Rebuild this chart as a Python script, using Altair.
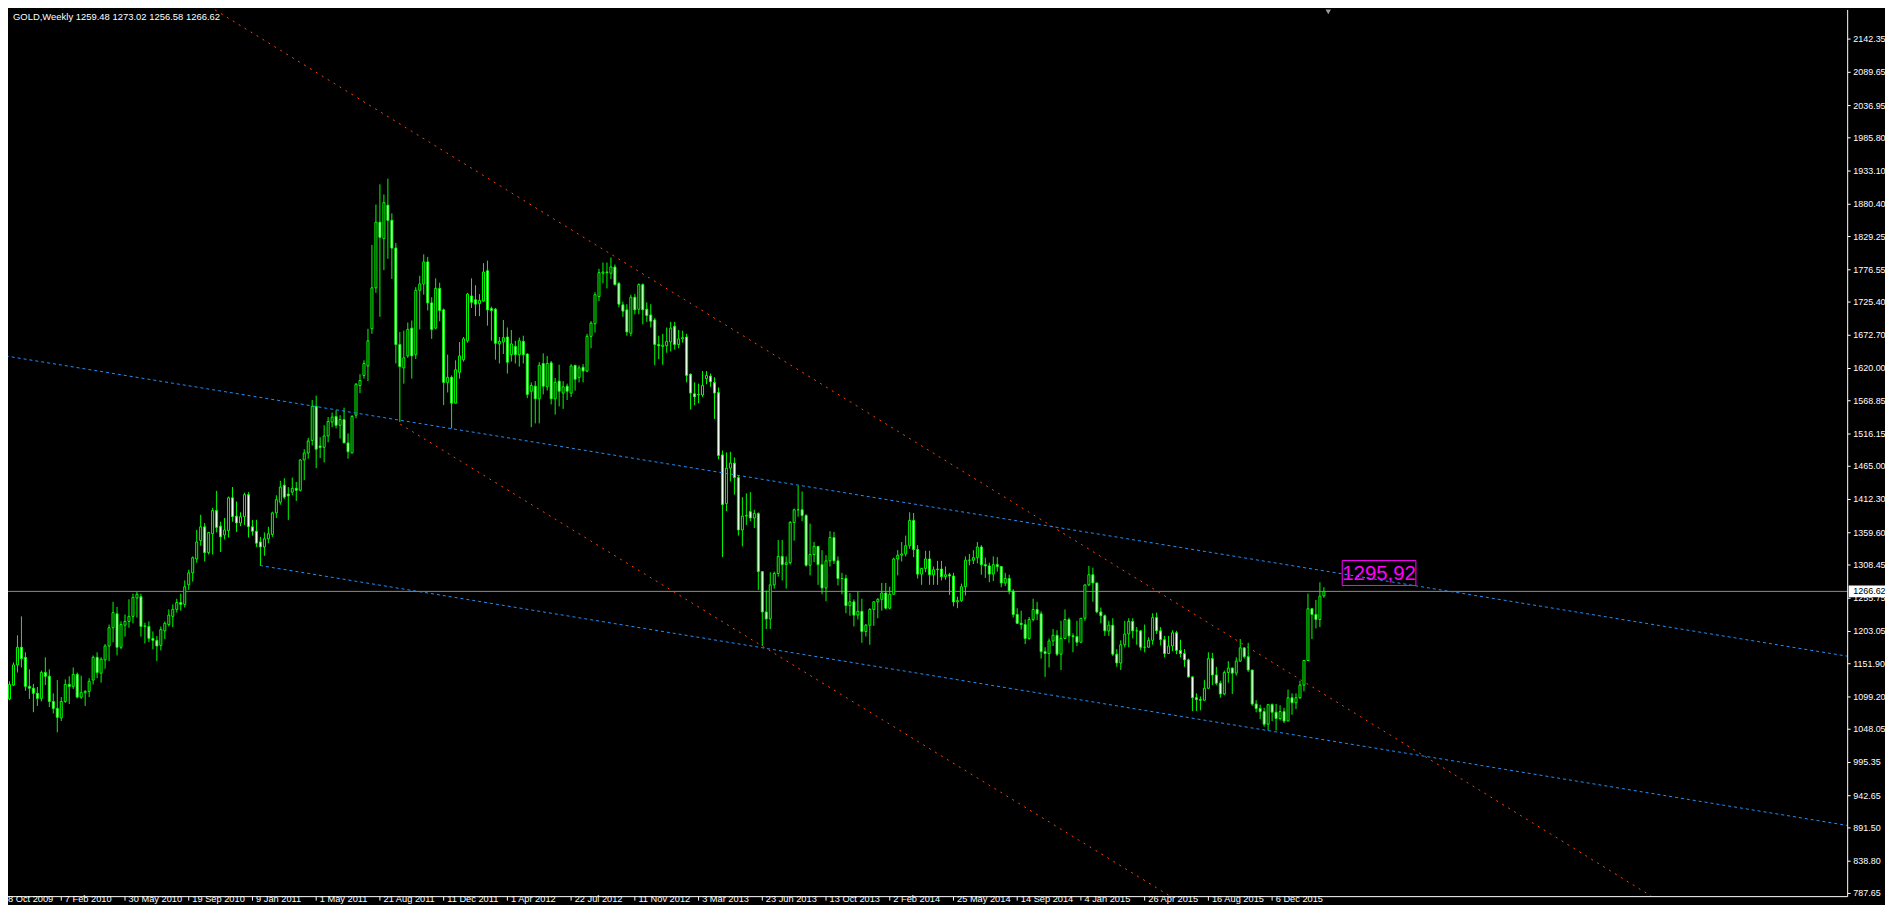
import altair as alt
import pandas as pd

# ---------------- weekly GOLD bars (one per week, first = week of 25 Oct 2009) -------------
bar_open = [
    1056, 1043, 1096, 1118, 1150, 1178, 1162, 1116, 1113, 1105,
    1097, 1138, 1132, 1092, 1081, 1066, 1092, 1119, 1116, 1135,
    1099, 1106, 1108, 1126, 1162, 1137, 1158, 1180, 1209, 1231,
    1178, 1213, 1219, 1227, 1256, 1258, 1211, 1211, 1192, 1189,
    1181, 1204, 1214, 1227, 1238, 1249, 1246, 1277, 1296, 1318,
    1347, 1369, 1328, 1358, 1395, 1370, 1356, 1363, 1415, 1386,
    1375, 1385, 1420, 1369, 1362, 1345, 1337, 1350, 1357, 1391,
    1408, 1435, 1421, 1424, 1430, 1427, 1475, 1486, 1506, 1560,
    1497, 1495, 1513, 1535, 1544, 1530, 1539, 1502, 1486, 1546,
    1593, 1609, 1624, 1683, 1748, 1852, 1826, 1879, 1855, 1811,
    1658, 1621, 1640, 1684, 1642, 1744, 1754, 1789, 1724, 1684,
    1747, 1713, 1598, 1606, 1565, 1614, 1634, 1664, 1735, 1729,
    1723, 1727, 1775, 1715, 1714, 1659, 1662, 1670, 1642, 1655,
    1642, 1663, 1643, 1584, 1592, 1572, 1628, 1591, 1629, 1572,
    1600, 1581, 1592, 1581, 1625, 1606, 1622, 1616, 1671, 1691,
    1734, 1771, 1773, 1771, 1781, 1755, 1721, 1713, 1676, 1733,
    1714, 1753, 1714, 1705, 1697, 1658, 1655, 1656, 1662, 1687,
    1658, 1667, 1670, 1611, 1580, 1578, 1578, 1604, 1608, 1598,
    1582, 1483, 1406, 1462, 1470, 1447, 1364, 1386, 1393, 1383,
    1390, 1298, 1234, 1223, 1277, 1295, 1322, 1309, 1312, 1376,
    1396, 1396, 1387, 1308, 1325, 1338, 1309, 1272, 1315, 1352,
    1315, 1287, 1287, 1244, 1250, 1229, 1235, 1203, 1213, 1238,
    1250, 1254, 1264, 1240, 1262, 1318, 1324, 1326, 1339, 1379,
    1333, 1294, 1303, 1318, 1293, 1301, 1302, 1290, 1293, 1291,
    1250, 1252, 1274, 1316, 1316, 1320, 1337, 1309, 1307, 1294,
    1309, 1306, 1280, 1287, 1267, 1230, 1216, 1214, 1192, 1222,
    1238, 1231, 1171, 1168, 1188, 1197, 1167, 1192, 1222, 1196,
    1195, 1186, 1224, 1277, 1293, 1280, 1234, 1228, 1204, 1213,
    1167, 1153, 1182, 1199, 1219, 1204, 1204, 1178, 1178, 1189,
    1225, 1204, 1190, 1168, 1180, 1201, 1173, 1168, 1158, 1131,
    1098, 1095, 1094, 1113, 1160, 1134, 1121, 1104, 1138, 1145,
    1137, 1156, 1177, 1163, 1142, 1088, 1081, 1076, 1056, 1087,
    1075, 1065, 1076, 1061, 1098, 1090, 1098, 1118, 1157, 1239,
    1230, 1222, 1259.48,
]
bar_high = [
    1061, 1102, 1124, 1154, 1197, 1227, 1170, 1143, 1120, 1115,
    1141, 1162, 1143, 1105, 1126, 1099, 1127, 1132, 1146, 1138,
    1133, 1110, 1129, 1165, 1170, 1162, 1183, 1214, 1250, 1242,
    1219, 1230, 1254, 1263, 1266, 1263, 1217, 1219, 1203, 1196,
    1211, 1219, 1238, 1246, 1255, 1263, 1284, 1301, 1322, 1364,
    1388, 1375, 1361, 1399, 1426, 1377, 1383, 1417, 1432, 1409,
    1392, 1423, 1424, 1380, 1380, 1353, 1360, 1369, 1393, 1419,
    1442, 1446, 1432, 1447, 1440, 1476, 1492, 1510, 1570, 1577,
    1511, 1530, 1543, 1550, 1554, 1546, 1558, 1517, 1546, 1597,
    1611, 1633, 1683, 1816, 1880, 1912, 1896, 1921, 1866, 1819,
    1678, 1680, 1693, 1696, 1749, 1767, 1801, 1797, 1733, 1763,
    1756, 1715, 1642, 1609, 1633, 1662, 1670, 1740, 1763, 1752,
    1738, 1787, 1791, 1718, 1716, 1670, 1697, 1685, 1681, 1664,
    1669, 1672, 1644, 1598, 1600, 1630, 1644, 1640, 1632, 1605,
    1626, 1600, 1596, 1627, 1626, 1625, 1627, 1675, 1695, 1741,
    1778, 1788, 1788, 1796, 1785, 1757, 1726, 1722, 1737, 1738,
    1755, 1755, 1725, 1722, 1700, 1672, 1675, 1685, 1694, 1694,
    1681, 1680, 1675, 1612, 1598, 1596, 1616, 1616, 1612, 1606,
    1590, 1490, 1487, 1488, 1479, 1451, 1416, 1422, 1424, 1396,
    1392, 1298, 1268, 1297, 1298, 1348, 1348, 1322, 1378, 1398,
    1434, 1425, 1389, 1374, 1345, 1338, 1332, 1324, 1362, 1361,
    1322, 1296, 1293, 1264, 1254, 1267, 1255, 1215, 1240, 1251,
    1256, 1280, 1280, 1274, 1320, 1332, 1345, 1355, 1392, 1391,
    1340, 1304, 1331, 1331, 1306, 1315, 1315, 1306, 1296, 1296,
    1258, 1279, 1322, 1326, 1332, 1345, 1340, 1320, 1312, 1322,
    1321, 1306, 1296, 1293, 1270, 1240, 1236, 1222, 1226, 1255,
    1250, 1235, 1178, 1192, 1207, 1205, 1220, 1238, 1225, 1200,
    1220, 1224, 1266, 1307, 1304, 1280, 1241, 1230, 1220, 1224,
    1175, 1189, 1220, 1224, 1224, 1210, 1205, 1214, 1194, 1232,
    1233, 1210, 1196, 1196, 1205, 1204, 1190, 1175, 1160, 1132,
    1105, 1100, 1126, 1170, 1169, 1147, 1125, 1141, 1156, 1146,
    1162, 1191, 1178, 1185, 1142, 1094, 1087, 1082, 1088, 1089,
    1088, 1086, 1082, 1111, 1105, 1105, 1125, 1157, 1263, 1240,
    1253, 1281, 1273.02,
]
bar_low = [
    1028, 1040, 1094, 1117, 1138, 1146, 1109, 1096, 1075, 1085,
    1092, 1118, 1083, 1073, 1043, 1061, 1090, 1088, 1112, 1097,
    1096, 1085, 1099, 1119, 1129, 1122, 1144, 1156, 1186, 1165,
    1175, 1195, 1209, 1216, 1225, 1195, 1184, 1186, 1175, 1156,
    1173, 1191, 1211, 1210, 1233, 1236, 1241, 1269, 1282, 1312,
    1339, 1314, 1325, 1325, 1360, 1329, 1349, 1352, 1377, 1361,
    1370, 1372, 1352, 1355, 1337, 1307, 1323, 1343, 1353, 1383,
    1404, 1413, 1380, 1419, 1410, 1425, 1443, 1477, 1498, 1462,
    1478, 1471, 1503, 1527, 1525, 1509, 1502, 1477, 1486, 1541,
    1581, 1604, 1600, 1675, 1740, 1702, 1776, 1794, 1762, 1628,
    1535, 1596, 1637, 1604, 1635, 1682, 1737, 1712, 1667, 1682,
    1695, 1562, 1582, 1525, 1565, 1604, 1631, 1661, 1716, 1703,
    1703, 1726, 1688, 1664, 1634, 1628, 1643, 1612, 1631, 1628,
    1623, 1628, 1573, 1527, 1533, 1533, 1579, 1585, 1563, 1547,
    1560, 1556, 1570, 1575, 1585, 1598, 1598, 1614, 1652, 1677,
    1727, 1755, 1747, 1762, 1752, 1717, 1702, 1672, 1671, 1706,
    1706, 1690, 1694, 1685, 1625, 1635, 1626, 1645, 1647, 1650,
    1652, 1661, 1598, 1555, 1562, 1565, 1575, 1595, 1591, 1540,
    1476, 1321, 1394, 1441, 1420, 1355, 1338, 1372, 1378, 1367,
    1269, 1180, 1207, 1207, 1271, 1290, 1284, 1271, 1309, 1347,
    1385, 1378, 1306, 1292, 1313, 1277, 1262, 1251, 1306, 1310,
    1276, 1262, 1232, 1228, 1211, 1222, 1185, 1195, 1182, 1212,
    1224, 1236, 1238, 1238, 1262, 1292, 1314, 1322, 1334, 1321,
    1287, 1277, 1297, 1277, 1277, 1277, 1284, 1285, 1261, 1243,
    1240, 1250, 1260, 1308, 1310, 1311, 1293, 1288, 1281, 1283,
    1298, 1273, 1275, 1262, 1225, 1215, 1206, 1183, 1190, 1219,
    1221, 1160, 1131, 1146, 1180, 1164, 1142, 1191, 1185, 1170,
    1180, 1185, 1220, 1275, 1250, 1232, 1216, 1196, 1196, 1164,
    1147, 1142, 1178, 1178, 1192, 1182, 1173, 1170, 1178, 1182,
    1199, 1181, 1162, 1169, 1172, 1167, 1162, 1147, 1130, 1077,
    1077, 1078, 1093, 1112, 1118, 1118, 1098, 1102, 1122, 1104,
    1133, 1155, 1160, 1139, 1085, 1075, 1064, 1052, 1046, 1061,
    1046, 1062, 1058, 1061, 1071, 1080, 1096, 1108, 1156, 1191,
    1208, 1210, 1256.58,
]
bar_close = [
    1043, 1096, 1119, 1150, 1178, 1160, 1116, 1113, 1105, 1097,
    1138, 1132, 1092, 1081, 1067, 1092, 1119, 1116, 1135, 1099,
    1106, 1108, 1124, 1162, 1138, 1159, 1180, 1209, 1233, 1178,
    1214, 1219, 1227, 1257, 1262, 1211, 1212, 1192, 1189, 1180,
    1206, 1216, 1229, 1238, 1249, 1246, 1274, 1296, 1320, 1345,
    1369, 1328, 1360, 1395, 1368, 1353, 1364, 1415, 1385, 1375,
    1385, 1420, 1369, 1362, 1343, 1337, 1350, 1358, 1391, 1412,
    1432, 1416, 1418, 1430, 1427, 1475, 1486, 1505, 1560, 1492,
    1495, 1513, 1536, 1543, 1530, 1539, 1502, 1488, 1544, 1595,
    1601, 1628, 1664, 1748, 1852, 1828, 1883, 1855, 1811, 1658,
    1623, 1637, 1682, 1640, 1744, 1754, 1789, 1724, 1682, 1747,
    1712, 1598, 1606, 1565, 1618, 1640, 1667, 1738, 1725, 1722,
    1728, 1773, 1713, 1712, 1660, 1663, 1669, 1630, 1659, 1642,
    1664, 1642, 1579, 1593, 1572, 1625, 1592, 1628, 1572, 1598,
    1584, 1591, 1584, 1624, 1603, 1621, 1616, 1671, 1692, 1737,
    1772, 1773, 1772, 1781, 1753, 1722, 1711, 1678, 1733, 1713,
    1753, 1713, 1704, 1695, 1658, 1656, 1657, 1663, 1684, 1658,
    1667, 1669, 1609, 1581, 1575, 1579, 1593, 1609, 1599, 1581,
    1482, 1404, 1462, 1470, 1447, 1364, 1386, 1387, 1383, 1390,
    1298, 1234, 1223, 1277, 1295, 1322, 1309, 1312, 1376, 1396,
    1396, 1387, 1308, 1325, 1338, 1309, 1272, 1315, 1352, 1315,
    1287, 1287, 1244, 1250, 1229, 1235, 1203, 1213, 1238, 1250,
    1254, 1264, 1240, 1262, 1318, 1324, 1326, 1339, 1379, 1333,
    1294, 1303, 1318, 1293, 1301, 1302, 1290, 1293, 1291, 1250,
    1252, 1274, 1316, 1316, 1320, 1337, 1309, 1307, 1294, 1309,
    1306, 1280, 1287, 1267, 1230, 1216, 1214, 1192, 1222, 1238,
    1231, 1171, 1168, 1188, 1197, 1167, 1192, 1222, 1196, 1195,
    1186, 1224, 1277, 1293, 1280, 1234, 1228, 1204, 1213, 1167,
    1153, 1182, 1199, 1219, 1204, 1204, 1178, 1178, 1189, 1225,
    1204, 1190, 1168, 1180, 1201, 1173, 1168, 1158, 1131, 1098,
    1095, 1094, 1113, 1160, 1134, 1121, 1104, 1138, 1145, 1137,
    1156, 1177, 1163, 1142, 1088, 1081, 1076, 1056, 1087, 1075,
    1065, 1076, 1061, 1098, 1090, 1098, 1118, 1157, 1239, 1230,
    1222, 1259, 1266.62,
]

# ---------------- axis labels ----------------
price_labels = ["2142.35", "2089.65", "2036.95", "1985.80", "1933.10", "1880.40",
                "1829.25", "1776.55", "1725.40", "1672.70", "1620.00", "1568.85",
                "1516.15", "1465.00", "1412.30", "1359.60", "1308.45", "1255.75",
                "1203.05", "1151.90", "1099.20", "1048.05", "995.35", "942.65",
                "891.50", "838.80", "787.65"]
first_date_label = "8 Oct 2009"
date_labels = ["7 Feb 2010", "30 May 2010", "19 Sep 2010", "9 Jan 2011", "1 May 2011",
               "21 Aug 2011", "11 Dec 2011", "1 Apr 2012", "22 Jul 2012", "11 Nov 2012",
               "3 Mar 2013", "23 Jun 2013", "13 Oct 2013", "2 Feb 2014", "25 May 2014",
               "14 Sep 2014", "4 Jan 2015", "26 Apr 2015", "16 Aug 2015", "6 Dec 2015"]
date_bars = [15, 31, 47, 63, 79, 95, 111, 127, 143, 159, 175, 191, 207, 223, 239,
             255, 271, 287, 303, 319]

# ---------------- drawn objects (bar index, price) ----------------
red_upper_bar = [53.6, 414.2]
red_upper_price = [2188.6, 783.4]
red_lower_bar = [100.1, 293.4]
red_lower_price = [1531.8, 783.4]
blue_upper_bar = [-0.4, 463.4]
blue_upper_price = [1641.4, 1163.9]
blue_lower_bar = [64.9, 463.4]
blue_lower_price = [1307.6, 895.5]
text_label = "1295,92"
text_box_bar = [336.6, 355.1]
text_box_price = [1276.0, 1315.5]
shift_marker_bar = 333.1

symbol = "GOLD,Weekly"

# ---------------- scales ----------------
X_DOM = [1.625, 472.875]      # bar index shown across the whole picture
Y_DOM = [772.35, 2188.61]     # price shown top to bottom
AXIS_BAR = 463.5              # bar position of the price scale line
BOTTOM_PRICE = 782.6          # price level of the time scale line
xs = alt.Scale(domain=X_DOM, nice=False, zero=False)
ys = alt.Scale(domain=Y_DOM, nice=False, zero=False)

LIME = "#00FF00"
FONT = "Liberation Sans"

n = len(bar_close)
bars = pd.DataFrame({
    "i": list(range(n)),
    "o": bar_open, "h": bar_high, "l": bar_low, "c": bar_close,
})
bars["top"] = bars[["o", "c"]].max(axis=1)
bars["bot"] = bars[["o", "c"]].min(axis=1)
bars["hi"] = bars[["h", "top"]].max(axis=1)
bars["lo"] = bars[["l", "bot"]].min(axis=1)
bars["x0"] = bars["i"] - 0.25
bars["x1"] = bars["i"] + 0.25
bars["kind"] = ["bull" if c >= o else "bear" for o, c in zip(bar_open, bar_close)]

wicks = alt.Chart(bars).mark_rule(color=LIME, strokeWidth=1).encode(
    x=alt.X("i:Q", scale=xs, axis=None),
    y=alt.Y("lo:Q", scale=ys, axis=None),
    y2="hi:Q",
)
bodies = alt.Chart(bars).mark_rect(stroke=LIME, strokeWidth=1).encode(
    x=alt.X("x0:Q", scale=xs, axis=None),
    x2="x1:Q",
    y=alt.Y("bot:Q", scale=ys, axis=None),
    y2="top:Q",
    fill=alt.Fill("kind:N", scale=alt.Scale(domain=["bull", "bear"],
                                            range=["#000000", "#FFFFFF"]), legend=None),
)

def trend(bx, py, color, dash):
    df = pd.DataFrame({"bar": bx, "price": py})
    return alt.Chart(df).mark_line(color=color, strokeWidth=1, strokeDash=dash).encode(
        x=alt.X("bar:Q", scale=xs, axis=None),
        y=alt.Y("price:Q", scale=ys, axis=None),
    )

red1 = trend(red_upper_bar, red_upper_price, "#FF4500", [2, 5])
red2 = trend(red_lower_bar, red_lower_price, "#FF4500", [2, 5])
blue1 = trend(blue_upper_bar, blue_upper_price, "#1E90FF", [3, 3])
blue2 = trend(blue_lower_bar, blue_lower_price, "#1E90FF", [3, 3])

last_close = bar_close[-1]
bid = alt.Chart(pd.DataFrame({"p": [last_close], "a": [X_DOM[0]], "b": [AXIS_BAR]})).mark_rule(
    color="#8C8C8C", strokeWidth=1).encode(
    x=alt.X("a:Q", scale=xs, axis=None), x2="b:Q",
    y=alt.Y("p:Q", scale=ys, axis=None))

# axes frame
frame_df = pd.DataFrame({"x": [AXIS_BAR], "xa": [X_DOM[0]], "y1": [Y_DOM[1]], "y0": [BOTTOM_PRICE]})
right_line = alt.Chart(frame_df).mark_rule(color="#FFFFFF", strokeWidth=1).encode(
    x=alt.X("x:Q", scale=xs, axis=None),
    y=alt.Y("y0:Q", scale=ys, axis=None), y2="y1:Q")
bottom_line = alt.Chart(frame_df).mark_rule(color="#FFFFFF", strokeWidth=1).encode(
    x=alt.X("xa:Q", scale=xs, axis=None), x2="x:Q",
    y=alt.Y("y0:Q", scale=ys, axis=None))

pl = pd.DataFrame({"label": price_labels, "p": [float(v) for v in price_labels]})
pl["x0"] = AXIS_BAR
pl["x1"] = AXIS_BAR + 0.75
pl["xt"] = AXIS_BAR + 1.4
price_ticks = alt.Chart(pl).mark_rule(color="#FFFFFF", strokeWidth=1).encode(
    x=alt.X("x0:Q", scale=xs, axis=None), x2="x1:Q",
    y=alt.Y("p:Q", scale=ys, axis=None))
price_text = alt.Chart(pl).mark_text(align="left", baseline="middle", color="#FFFFFF",
                                     font=FONT, fontSize=9).encode(
    x=alt.X("xt:Q", scale=xs, axis=None),
    y=alt.Y("p:Q", scale=ys, axis=None),
    text="label:N")

dl = pd.DataFrame({"label": date_labels, "bar": date_bars})
dl["y0"] = BOTTOM_PRICE
dl["y1"] = BOTTOM_PRICE - 6.3
dl["xt"] = dl["bar"] + 0.9
dl["yt"] = 774.0
date_ticks = alt.Chart(dl).mark_rule(color="#FFFFFF", strokeWidth=1).encode(
    x=alt.X("bar:Q", scale=xs, axis=None),
    y=alt.Y("y0:Q", scale=ys, axis=None), y2="y1:Q")
date_text = alt.Chart(dl).mark_text(align="left", baseline="alphabetic", color="#FFFFFF",
                                    font=FONT, fontSize=9.3).encode(
    x=alt.X("xt:Q", scale=xs, axis=None),
    y=alt.Y("yt:Q", scale=ys, axis=None),
    text="label:N")
first_text = alt.Chart(pd.DataFrame({"label": [first_date_label], "bar": [X_DOM[0]], "yt": [774.0]})).mark_text(
    align="left", baseline="alphabetic", color="#FFFFFF", font=FONT, fontSize=9.3).encode(
    x=alt.X("bar:Q", scale=xs, axis=None),
    y=alt.Y("yt:Q", scale=ys, axis=None),
    text="label:N")

# bid price box on the price scale
bid_df = pd.DataFrame({"x0": [AXIS_BAR + 0.25], "x1": [X_DOM[1]], "p": [last_close],
                       "p0": [last_close - 9.5], "p1": [last_close + 9.5],
                       "xt": [AXIS_BAR + 1.4], "label": [f"{last_close:.2f}"]})
bid_box = alt.Chart(bid_df).mark_rect(fill="#FFFFFF").encode(
    x=alt.X("x0:Q", scale=xs, axis=None), x2="x1:Q",
    y=alt.Y("p0:Q", scale=ys, axis=None), y2="p1:Q")
bid_text = alt.Chart(bid_df).mark_text(align="left", baseline="middle", color="#000000",
                                       font=FONT, fontSize=9).encode(
    x=alt.X("xt:Q", scale=xs, axis=None),
    y=alt.Y("p:Q", scale=ys, axis=None),
    text="label:N")

# magenta text object
tb = pd.DataFrame({"x0": [text_box_bar[0]], "x1": [text_box_bar[1]],
                   "p0": [text_box_price[0]], "p1": [text_box_price[1]],
                   "xc": [sum(text_box_bar) / 2], "pc": [sum(text_box_price) / 2],
                   "label": [text_label]})
mag_box = alt.Chart(tb).mark_rect(fillOpacity=0, stroke="#FF00FF", strokeWidth=1).encode(
    x=alt.X("x0:Q", scale=xs, axis=None), x2="x1:Q",
    y=alt.Y("p0:Q", scale=ys, axis=None), y2="p1:Q")
mag_text = alt.Chart(tb).mark_text(align="center", baseline="middle", color="#FF00FF",
                                   font=FONT, fontSize=20.5, dy=1).encode(
    x=alt.X("xc:Q", scale=xs, axis=None),
    y=alt.Y("pc:Q", scale=ys, axis=None),
    text="label:N")

# chart-shift marker at the top edge
shift_df = pd.DataFrame({"bar": [shift_marker_bar], "p": [Y_DOM[1] - 3.0]})
shift_mark = alt.Chart(shift_df).mark_point(shape="triangle-down", filled=True, size=30,
                                            color="#9A9A9A", opacity=1).encode(
    x=alt.X("bar:Q", scale=xs, axis=None),
    y=alt.Y("p:Q", scale=ys, axis=None))

title_str = f"{symbol}  {bar_open[-1]:.2f} {bar_high[-1]:.2f} {bar_low[-1]:.2f} {bar_close[-1]:.2f}"
title = alt.Chart(pd.DataFrame({"t": [title_str]})).mark_text(
    align="left", baseline="alphabetic", color="#FFFFFF", font=FONT, fontSize=9.5).encode(
    x=alt.value(5), y=alt.value(10), text="t:N")

chart = alt.layer(
    bid, wicks, bodies, red1, red2, blue1, blue2,
    right_line, bottom_line, price_ticks, price_text,
    date_ticks, date_text, first_text,
    bid_box, bid_text, mag_box, mag_text, shift_mark, title,
).properties(
    width=1885, height=897, padding=0, background="#000000",
    autosize=alt.AutoSizeParams(type="none"),
).configure_view(strokeWidth=0)

chart.save("out.html", embed_options={"renderer": "svg", "actions": False})
